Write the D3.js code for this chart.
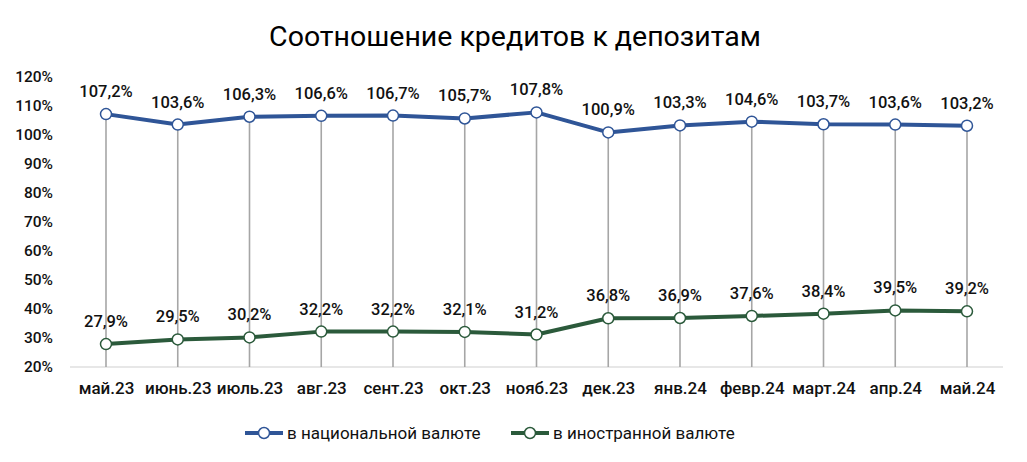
<!DOCTYPE html>
<html><head><meta charset="utf-8">
<script src="https://cdn.jsdelivr.net/npm/d3@7"></script>
<style>body{margin:0;background:#fff}svg{display:block}text{font-family:Roboto,"DejaVu Sans",sans-serif}</style>
</head><body>
<svg id="c" width="1027" height="462"></svg>
<script>
const categories = ["май.23","июнь.23","июль.23","авг.23","сент.23","окт.23","нояб.23","дек.23","янв.24","февр.24","март.24","апр.24","май.24"];
const national = [107.2,103.6,106.3,106.6,106.7,105.7,107.8,100.9,103.3,104.6,103.7,103.6,103.2];
const foreign = [27.9,29.5,30.2,32.2,32.2,32.1,31.2,36.8,36.9,37.6,38.4,39.5,39.2];
const yTicks = [20,30,40,50,60,70,80,90,100,110,120];
const seriesNames = ["в национальной валюте","в иностранной валюте"];
const colors = ["#2f5597","#2b5a3b"];

const svg = d3.select("#c");
const x = d3.scalePoint().domain(categories).range([106,967]);
const y = d3.scaleLinear().domain([20,120]).range([367,77]);

svg.append("text").attr("x",515).attr("y",46).attr("text-anchor","middle")
  .attr("font-size",28.5).attr("font-weight",400).attr("fill","#000").text("Соотношение кредитов к депозитам");

// y axis labels
const ya = svg.append("g").attr("transform","translate(53,0)")
  .call(d3.axisLeft(y).tickValues(yTicks).tickSize(0).tickPadding(0).tickFormat(d=>d+"%"));
ya.select(".domain").remove();
ya.selectAll("text").attr("font-size",15.5).attr("font-weight",500).attr("fill","#111").attr("font-family","Roboto");

// baseline
svg.append("line").attr("x1",70).attr("x2",1003).attr("y1",y(20)).attr("y2",y(20))
  .attr("stroke","#d0d0d0").attr("stroke-width",1.2);

// drop lines
svg.append("g").selectAll("line").data(categories).join("line")
  .attr("x1",d=>x(d)).attr("x2",d=>x(d))
  .attr("y1",(d,i)=>y(Math.max(national[i],foreign[i]))).attr("y2",y(20))
  .attr("stroke","#a6a6a6").attr("stroke-width",1.6);

// x axis labels
const xa = svg.append("g").attr("transform",`translate(0,${y(20)})`)
  .call(d3.axisBottom(x).tickSize(0).tickPadding(15));
xa.select(".domain").remove();
xa.selectAll("text").attr("font-size",17).attr("font-weight",500).attr("fill","#111").attr("font-family","Roboto");

const line = d3.line().x((d,i)=>x(categories[i])).y(d=>y(d));
[national,foreign].forEach((s,k)=>{
  svg.append("path").datum(s).attr("d",line).attr("fill","none")
    .attr("stroke",colors[k]).attr("stroke-width",4).attr("stroke-linejoin","round");
  svg.append("g").selectAll("circle").data(s).join("circle")
    .attr("cx",(d,i)=>x(categories[i])).attr("cy",d=>y(d)).attr("r",5.5)
    .attr("fill","#fff").attr("stroke",colors[k]).attr("stroke-width",1.5);
  svg.append("g").selectAll("text").data(s).join("text")
    .attr("x",(d,i)=>x(categories[i])).attr("y",d=>y(d)-17)
    .attr("text-anchor","middle").attr("font-size",16.5).attr("font-weight",500).attr("fill","#111")
    .text(d=>d.toFixed(1).replace(".",",")+"%");
});

// legend
const legX = [245,511];
seriesNames.forEach((n,k)=>{
  const g = svg.append("g").attr("transform",`translate(${legX[k]},433)`);
  g.append("line").attr("x1",0).attr("x2",38).attr("y1",0).attr("y2",0).attr("stroke",colors[k]).attr("stroke-width",4);
  g.append("circle").attr("cx",19).attr("cy",0).attr("r",5.5).attr("fill","#fff").attr("stroke",colors[k]).attr("stroke-width",1.5);
  g.append("text").attr("x",42).attr("y",6).attr("font-size",17).attr("fill","#111").text(n);
});
</script>
</body></html>
